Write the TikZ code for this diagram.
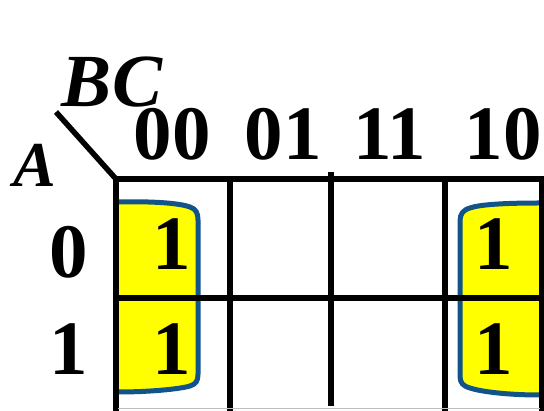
\documentclass[tikz,border=0pt]{standalone}
\usepackage{fontspec}
\setmainfont{Liberation Serif}
\usetikzlibrary{calc}

\definecolor{loopyellow}{RGB}{255,255,0}
\definecolor{loopblue}{RGB}{18,84,138}

\tikzset{
  digit/.style={font=\fontsize{77}{77}\selectfont\bfseries, inner sep=0pt, anchor=base},
  varname/.style={font=\fontsize{75}{75}\selectfont\bfseries\itshape, inner sep=0pt, anchor=base},
  kline/.style={line width=5.5pt},
  kloop/.style={draw=loopblue, line width=5pt, fill=loopyellow}
}

\begin{document}
\begin{tikzpicture}[x=1pt, y=-1pt]
\useasboundingbox (0,0) rectangle (544,411);
% groups of ones
\filldraw[kloop] (118,202) .. controls (160,201) and (182,204) .. (190,207)
  .. controls (196,209) and (198,213) .. (198,220) -- (198,374)
  .. controls (198,381) and (196,384) .. (190,386)
  .. controls (180,389) and (150,392) .. (118,392);
\filldraw[kloop] (539,203) .. controls (500,203) and (478,205) .. (470,208)
  .. controls (463,210) and (460,214) .. (460,221) -- (460,376)
  .. controls (460,383) and (463,386) .. (470,388)
  .. controls (482,392) and (510,395) .. (539,395);
% grid
\coordinate (corner) at (116,179);
\coordinate (diag) at (56,112);
\draw[kline] (diag) -- (corner);
\draw[kline] (113.5,179) -- (544,179);
\draw[kline] (116,298) -- (541.5,298);
\draw[kline] (116,176.5) -- (116,411);
\draw[kline] (230,179) -- (230,411);
\draw[kline] (331,172) -- (331,406);
\draw[kline] (445,179) -- (445,411);
\draw[kline] (541.5,179) -- (541.5,411);
\draw[black!25, line width=1pt] (118,409) -- (540,409);
% variable names
\node[varname] (bc) at (112,107) {BC};
\node[varname, font=\fontsize{64}{64}\selectfont\bfseries\itshape] (a) at (35,187) {A};
% column labels
\node[digit] (c00) at (172,160) {00};
\node[digit] (c01) at (283,160) {01};
\node[digit] (c11) at (390,160) {11};
\node[digit] (c10) at (503,160) {10};
% row labels
\node[digit] (r0) at (69,278) {0};
\node[digit] (r1) at (69,375) {1};
% cell values
\node[digit] (m0) at (172,270) {1};
\node[digit] (m1) at (172,375) {1};
\node[digit] (m4) at (494,270) {1};
\node[digit] (m5) at (494,375) {1};
\end{tikzpicture}
\end{document}
